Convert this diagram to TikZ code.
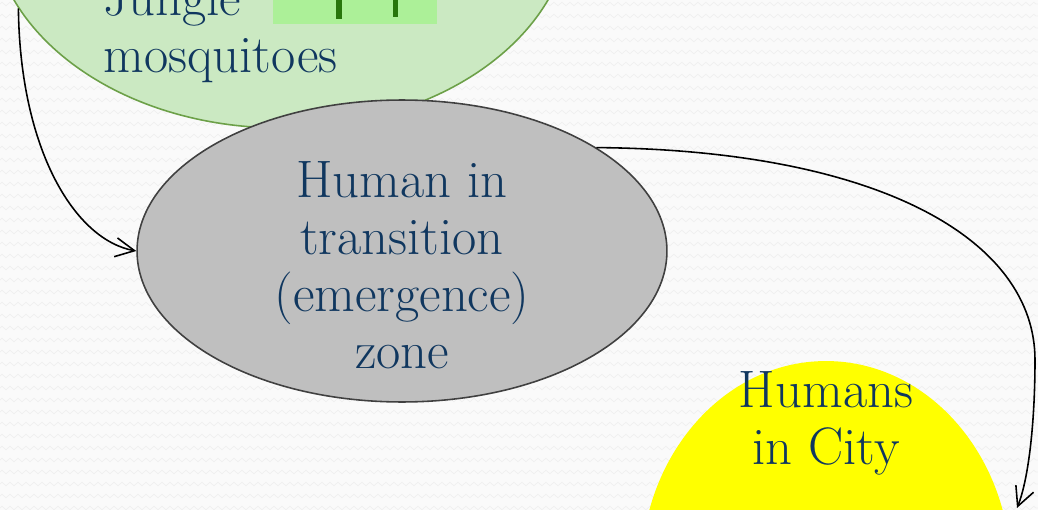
\documentclass[tikz,border=0pt]{standalone}
\usepackage{tikz}
\usetikzlibrary{shapes}
\usetikzlibrary{arrows.meta}
\usetikzlibrary{decorations.pathmorphing}

\definecolor{textblue}{RGB}{16,55,95}
\definecolor{junglefill}{RGB}{203,233,194}
\definecolor{jungleline}{RGB}{108,160,72}
\definecolor{zonefill}{RGB}{191,191,191}
\definecolor{zoneline}{RGB}{64,64,64}
\definecolor{cityfill}{RGB}{255,255,0}
\definecolor{mosqlight}{RGB}{172,240,152}
\definecolor{mosqdark}{RGB}{40,118,12}

\begin{document}
\begin{tikzpicture}[x=0.02cm,y=-0.02cm]
    \tikzstyle{edge}  = [line width=0.9pt,draw=black]
    \tikzstyle{dedge} = [line width=0.9pt,-{Straight Barb[length=0.38cm,width=0.38cm]},draw=black]
    \tikzstyle{region}=[
      ellipse,
      inner sep=0pt,
      line width=0.9pt,
    ]
    \tikzstyle{lbl}=[
      text=textblue,
      font=\fontsize{30}{32.6}\selectfont,
      inner sep=0pt,
    ]
    \tikzstyle{bgzig}=[draw=black!6,line width=0.4pt,decorate,
      decoration={zigzag,segment length=0.16cm,amplitude=0.035cm}]

    \useasboundingbox (0,0) rectangle (1038,510);
    \clip (0,0) rectangle (1038,510);
    \fill[white!98!black] (0,0) rectangle (1038,510);
    \foreach \r in {0,...,42}
      \draw[bgzig] (0,\r*12+4) -- (1038,\r*12+4);

    % jungle blob with the mosquito picture
    \node[region,fill=junglefill,draw=jungleline,minimum width=11.6cm,minimum height=8.4cm] (jungle) at (281,-82) {};
    \fill[mosqlight] (273,0) rectangle (437,24);
    \fill[mosqdark] (336,0) rectangle (342,19);
    \fill[mosqdark] (393,0) rectangle (398,17);
    \node[lbl,align=left,anchor=north west] (junglelbl) at (103,-21.6) {Jungle\\mosquitoes};

    % transition zone
    \node[region,fill=zonefill,draw=zoneline,minimum width=10.6cm,minimum height=6.04cm] (zone) at (402,251) {};
    \node[lbl,align=center] (zonelbl) at (402,265.2) {Human in\\transition\\(emergence)\\zone};

    % city
    \node[region,fill=cityfill,minimum width=7.4cm,minimum height=8.48cm] (city) at (826,573) {};
    \node[lbl,align=center] (citylbl) at (826,423.3) {Humans\\in City};

    \coordinate (tocity) at (1017,508);

    \draw[dedge] (jungle.199) .. controls (20,150) and (75,240) .. (zone.west);
    \draw[dedge] (zone.28) .. controls (880,150) and (1035,240) .. (1035,360)
      .. controls (1035,420) and (1029,478) .. (tocity);
  \end{tikzpicture}
\end{document}
